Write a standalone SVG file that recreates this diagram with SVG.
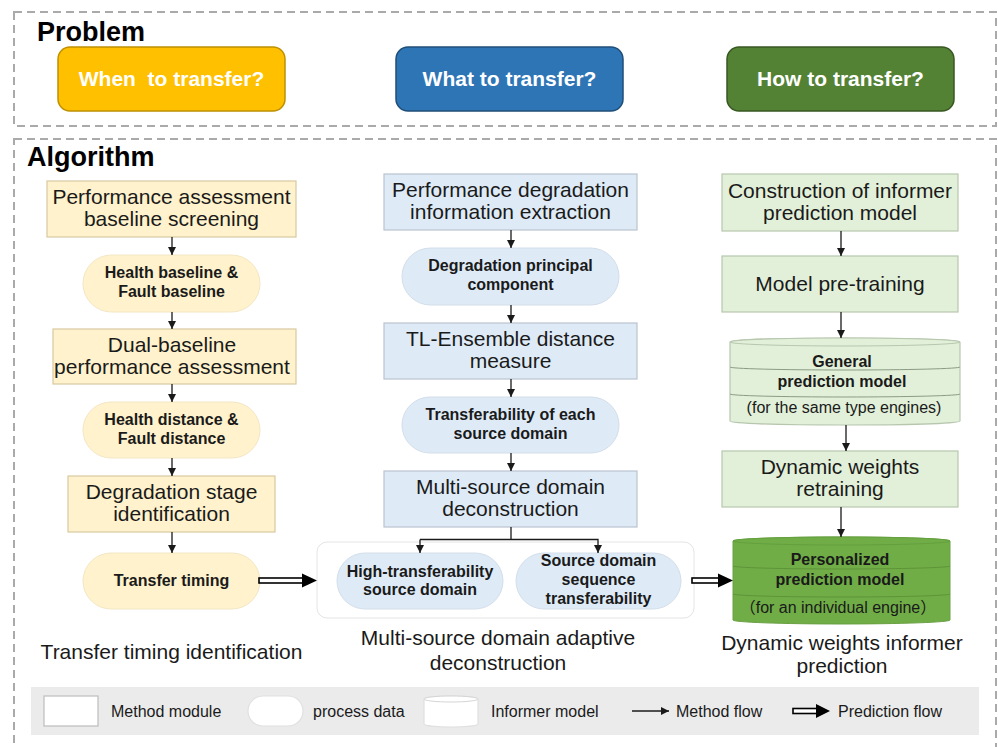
<svg xmlns="http://www.w3.org/2000/svg" width="998" height="747" viewBox="0 0 998 747">
<defs>
<style>
text{font-family:"Liberation Sans",Arial,"Noto Sans CJK SC",sans-serif;fill:#1a1a1a;text-anchor:middle}
.title{font-size:27px;font-weight:bold;text-anchor:start;fill:#000}
.btn{font-size:21px;font-weight:bold;fill:#fff}
.mod{font-size:21px}
.dat{font-size:16px;font-weight:bold}
.sm{font-size:16px}
.cap{font-size:21px}
.leg{font-size:16px;text-anchor:start}
.frame{fill:none;stroke:#AAAAAA;stroke-width:2;stroke-dasharray:8 5}
.y{fill:#FFF2CC;stroke:#D8C9A0;stroke-width:1.2}
.yp{fill:#FFF2CC;stroke:#F3E6C4;stroke-width:1}
.b{fill:#DEEBF7;stroke:#B9C4CF;stroke-width:1.2}
.bp{fill:#DEEBF7;stroke:#D2DEEA;stroke-width:1}
.g{fill:#E2F0D9;stroke:#B7C7AE;stroke-width:1.2}
.gl{fill:none;stroke:#8C9C84;stroke-width:1}
.dg{fill:#70AD47;stroke:#6AA043;stroke-width:1}
.dgl{fill:none;stroke:#5E9438;stroke-width:1}
.mf{fill:none;stroke:#1a1a1a;stroke-width:1.3;marker-end:url(#ah)}
.ln{fill:none;stroke:#1a1a1a;stroke-width:1.3}
.shaft{fill:#fff;stroke:#000;stroke-width:1.6}
.lgs{fill:#fff;stroke:#BDBDBD;stroke-width:1.2}
</style>
<marker id="ah" viewBox="0 0 10 10" refX="10" refY="5" markerWidth="8" markerHeight="8" markerUnits="userSpaceOnUse" orient="auto">
<path d="M0,0 L10,5 L0,10 Z" fill="#1a1a1a"/>
</marker>
</defs>
<rect width="998" height="747" fill="#fff"/>

<!-- frames -->
<rect class="frame" x="14" y="12" width="982" height="114"/>
<rect class="frame" x="14" y="139" width="982" height="620"/>
<text class="title" x="37" y="41">Problem</text>
<text class="title" x="27" y="166">Algorithm</text>

<!-- problem buttons -->
<g id="p-when">
<rect x="58" y="47" width="227" height="64" rx="12" fill="#FFC000" stroke="#BF9000" stroke-width="1.5"/>
<text class="btn" x="171.5" y="86" style="white-space:pre">When  to transfer?</text>
</g>
<g id="p-what">
<rect x="396" y="47" width="227" height="64" rx="12" fill="#2E75B6" stroke="#1F4E79" stroke-width="1.5"/>
<text class="btn" x="509.5" y="86">What to transfer?</text>
</g>
<g id="p-how">
<rect x="727" y="47" width="227" height="64" rx="12" fill="#548235" stroke="#385723" stroke-width="1.5"/>
<text class="btn" x="840.5" y="86">How to transfer?</text>
</g>

<!-- left column -->
<g id="l1">
<rect class="y" x="47" y="181" width="249" height="56"/>
<text class="mod" x="171.5" y="204">Performance assessment</text>
<text class="mod" x="171.5" y="226">baseline screening</text>
</g>
<g id="l2">
<rect class="yp" x="83" y="255" width="177" height="57" rx="28.5"/>
<text class="dat" x="171.5" y="278">Health baseline &amp;</text>
<text class="dat" x="171.5" y="297">Fault baseline</text>
</g>
<g id="l3">
<rect class="y" x="53" y="329" width="243" height="55"/>
<text class="mod" x="172" y="351.5">Dual-baseline</text>
<text class="mod" x="172" y="373.5">performance assessment</text>
</g>
<g id="l4">
<rect class="yp" x="83" y="402" width="177" height="56" rx="28"/>
<text class="dat" x="171.5" y="424.5">Health distance &amp;</text>
<text class="dat" x="171.5" y="443.5">Fault distance</text>
</g>
<g id="l5">
<rect class="y" x="68" y="476" width="207" height="56"/>
<text class="mod" x="171.5" y="499">Degradation stage</text>
<text class="mod" x="171.5" y="521">identification</text>
</g>
<g id="l6">
<rect class="yp" x="83" y="553" width="177" height="56" rx="28"/>
<text class="dat" x="171.5" y="586">Transfer timing</text>
</g>
<text class="cap" x="171.5" y="659">Transfer timing identification</text>

<!-- middle column -->
<g id="m1">
<rect class="b" x="384" y="174" width="253" height="56"/>
<text class="mod" x="510.5" y="197">Performance degradation</text>
<text class="mod" x="510.5" y="219">information extraction</text>
</g>
<g id="m2">
<rect class="bp" x="402" y="248" width="217" height="57" rx="28.5"/>
<text class="dat" x="510.5" y="271">Degradation principal</text>
<text class="dat" x="510.5" y="290">component</text>
</g>
<g id="m3">
<rect class="b" x="384" y="323" width="253" height="56"/>
<text class="mod" x="510.5" y="346">TL-Ensemble distance</text>
<text class="mod" x="510.5" y="368">measure</text>
</g>
<g id="m4">
<rect class="bp" x="402" y="397" width="217" height="56" rx="28"/>
<text class="dat" x="510.5" y="419.5">Transferability of each</text>
<text class="dat" x="510.5" y="438.5">source domain</text>
</g>
<g id="m5">
<rect class="b" x="384" y="471" width="253" height="56"/>
<text class="mod" x="510.5" y="494">Multi-source domain</text>
<text class="mod" x="510.5" y="516">deconstruction</text>
</g>
<g id="m-container">
<rect x="317" y="542" width="377" height="76" rx="10" fill="#fff" stroke="#E4E4E4" stroke-width="1"/>
</g>
<g id="m6">
<rect class="bp" x="337" y="553" width="166" height="56" rx="28"/>
<text class="dat" x="420" y="577">High-transferability</text>
<text class="dat" x="420" y="595">source domain</text>
</g>
<g id="m7">
<rect class="bp" x="516" y="553" width="165" height="56" rx="28"/>
<text class="dat" x="598.5" y="566">Source domain</text>
<text class="dat" x="598.5" y="585">sequence</text>
<text class="dat" x="598.5" y="604">transferability</text>
</g>
<text class="cap" x="498" y="645">Multi-source domain adaptive</text>
<text class="cap" x="498" y="670">deconstruction</text>

<!-- right column -->
<g id="r1">
<rect class="g" x="722" y="174" width="236" height="57"/>
<text class="mod" x="840" y="197.5">Construction of informer</text>
<text class="mod" x="840" y="219.5">prediction model</text>
</g>
<g id="r2">
<rect class="g" x="722" y="256" width="236" height="56"/>
<text class="mod" x="840" y="291">Model pre-training</text>
</g>
<g id="r3">
<path class="g" d="M730,342 L730,421 A115,4 0 0 0 960,421 L960,342 A115,4 0 0 0 730,342 Z"/>
<ellipse cx="845" cy="342" rx="115" ry="4" fill="#E2F0D9" stroke="#B7C7AE" stroke-width="1"/>
<path class="gl" d="M730,367 A115,3 0 0 0 960,367"/>
<path class="gl" d="M730,394 A115,3 0 0 0 960,394"/>
<text class="dat" x="842" y="367">General</text>
<text class="dat" x="842" y="387">prediction model</text>
<text class="sm" x="844" y="413">(for the same type engines)</text>
</g>
<g id="r4">
<rect class="g" x="722" y="451" width="236" height="56"/>
<text class="mod" x="840" y="474">Dynamic weights</text>
<text class="mod" x="840" y="496">retraining</text>
</g>
<g id="r5">
<path class="dg" d="M733,541 L733,620 A108.5,4 0 0 0 950,620 L950,541 A108.5,4 0 0 0 733,541 Z"/>
<ellipse cx="841.5" cy="541" rx="108.5" ry="4" fill="#70AD47" stroke="#64A03E" stroke-width="1"/>
<path class="dgl" d="M733,566 A108.5,3 0 0 0 950,566"/>
<path class="dgl" d="M733,594 A108.5,3 0 0 0 950,594"/>
<text class="dat" x="840" y="565">Personalized</text>
<text class="dat" x="840" y="585">prediction model</text>
<text class="sm" x="838" y="613" style="white-space:pre">（for an individual engine）</text>
</g>
<text class="cap" x="842" y="650">Dynamic weights informer</text>
<text class="cap" x="842" y="673">prediction</text>

<!-- connectors -->
<g id="connectors">
<line class="mf" x1="172" y1="237" x2="172" y2="255"/>
<line class="mf" x1="172" y1="312" x2="172" y2="329"/>
<line class="mf" x1="172" y1="384" x2="172" y2="402"/>
<line class="mf" x1="172" y1="458" x2="172" y2="476"/>
<line class="mf" x1="172" y1="532" x2="172" y2="553"/>

<line class="mf" x1="511" y1="230" x2="511" y2="248"/>
<line class="mf" x1="511" y1="305" x2="511" y2="323"/>
<line class="mf" x1="511" y1="379" x2="511" y2="397"/>
<line class="mf" x1="511" y1="453" x2="511" y2="471"/>
<line class="ln" x1="511" y1="527" x2="511" y2="539.5"/>
<line class="mf" x1="420" y1="539.5" x2="420" y2="553"/>
<polyline class="mf" points="420,539.5 598,539.5 598,553"/>

<line class="mf" x1="841" y1="231" x2="841" y2="256"/>
<line class="mf" x1="841" y1="312" x2="841" y2="338"/>
<line class="mf" x1="846" y1="425" x2="846" y2="451"/>
<line class="mf" x1="841" y1="507" x2="841" y2="537"/>

<g id="pf1">
<rect class="shaft" x="259" y="578" width="44" height="5"/>
<path d="M302,573.5 L317,580.5 L302,587.5 Z" fill="#000"/>
</g>
<g id="pf2">
<rect class="shaft" x="692" y="578" width="27" height="5"/>
<path d="M718,573.5 L733,580.5 L718,587.5 Z" fill="#000"/>
</g>
</g>

<!-- legend -->
<g id="legend">
<rect x="31" y="687" width="948" height="48" fill="#EBEBEB"/>
<rect class="lgs" x="44" y="696" width="54" height="30"/>
<text class="leg" x="111" y="717">Method module</text>
<rect class="lgs" x="248" y="696" width="55" height="30" rx="15" style="stroke:#E0E0E0"/>
<text class="leg" x="313" y="717">process data</text>
<path class="lgs" d="M424,699 L424,724 A27,3 0 0 0 478,724 L478,699 A27,3 0 0 0 424,699 Z" style="stroke:#E0E0E0"/>
<ellipse cx="451" cy="699" rx="27" ry="3" fill="#fff" stroke="#D5D5D5" stroke-width="1"/>
<text class="leg" x="491" y="717">Informer model</text>
<line class="mf" x1="632" y1="711" x2="669" y2="711"/>
<text class="leg" x="676" y="717">Method flow</text>
<rect class="shaft" x="793" y="708.5" width="24" height="5"/>
<path d="M816,704 L830,711 L816,718 Z" fill="#000"/>
<text class="leg" x="838" y="717">Prediction flow</text>
</g>
</svg>
